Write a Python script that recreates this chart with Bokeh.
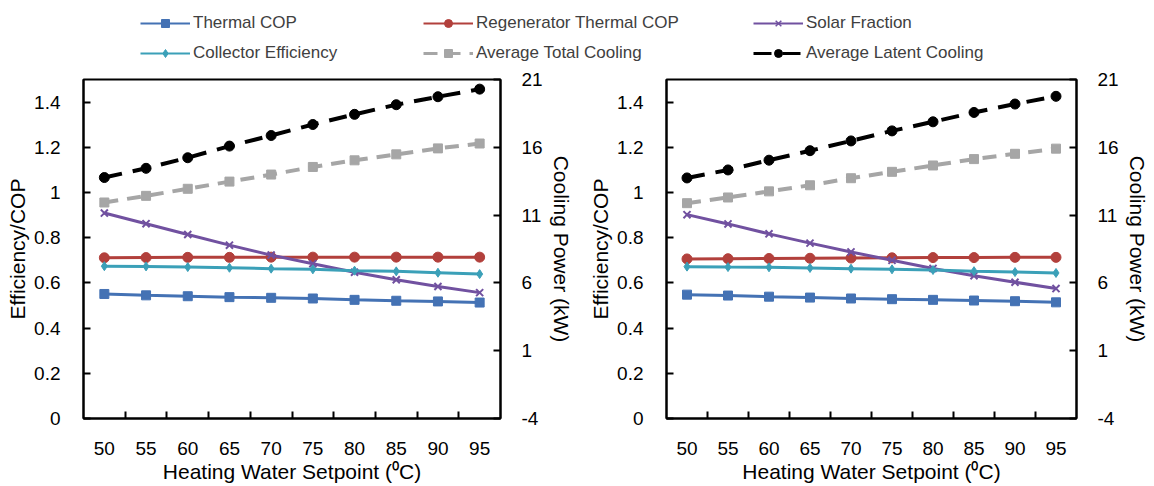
from bokeh.plotting import figure
from bokeh.models import Range1d, LinearAxis, FixedTicker, Legend, LegendItem
from bokeh.layouts import column, row
from bokeh.embed import file_html
from bokeh.resources import INLINE

# ---------------- data ----------------
setpoint = [50, 55, 60, 65, 70, 75, 80, 85, 90, 95]

# left chart
thermal_cop_a = [0.551, 0.545, 0.541, 0.537, 0.534, 0.531, 0.525, 0.521, 0.518, 0.513]
regen_cop_a = [0.711, 0.712, 0.713, 0.713, 0.714, 0.714, 0.714, 0.714, 0.714, 0.714]
collector_eff_a = [0.674, 0.673, 0.670, 0.667, 0.663, 0.660, 0.654, 0.651, 0.645, 0.639]
solar_fraction_a = [0.909, 0.862, 0.814, 0.767, 0.723, 0.685, 0.647, 0.614, 0.584, 0.557]
total_cooling_a = [11.93, 12.42, 12.94, 13.47, 13.99, 14.55, 15.04, 15.48, 15.92, 16.28]
latent_cooling_a = [13.77, 14.45, 15.23, 16.09, 16.87, 17.68, 18.43, 19.14, 19.73, 20.29]

# right chart
thermal_cop_b = [0.548, 0.544, 0.539, 0.535, 0.531, 0.528, 0.525, 0.522, 0.519, 0.514]
regen_cop_b = [0.706, 0.707, 0.708, 0.709, 0.710, 0.711, 0.712, 0.712, 0.713, 0.713]
collector_eff_b = [0.672, 0.670, 0.669, 0.666, 0.663, 0.660, 0.657, 0.652, 0.648, 0.644]
solar_fraction_b = [0.902, 0.861, 0.817, 0.776, 0.737, 0.700, 0.664, 0.632, 0.603, 0.575]
total_cooling_b = [11.88, 12.30, 12.75, 13.20, 13.72, 14.19, 14.66, 15.13, 15.52, 15.90]
latent_cooling_b = [13.74, 14.33, 15.05, 15.75, 16.47, 17.21, 17.88, 18.57, 19.19, 19.76]

series_names = ["Thermal COP", "Regenerator Thermal COP", "Solar Fraction",
                "Collector Efficiency", "Average Total Cooling", "Average Latent Cooling"]

left_ticks = [0, 0.2, 0.4, 0.6, 0.8, 1.0, 1.2, 1.4]
left_tick_labels = ["0", "0.2", "0.4", "0.6", "0.8", "1", "1.2", "1.4"]
right_ticks = [-4, 1, 6, 11, 16, 21]
right_tick_labels = ["-4", "1", "6", "11", "16", "21"]
left_title = "Efficiency/COP"
right_title = "Cooling Power (kW)"
x_title = "Heating Water Setpoint (\u2070C)"

# ---------------- styles ----------------
FONT = "Liberation Sans"
STYLES = {
    "Thermal COP": dict(color="#4472B4", marker="square", size=9, dash="solid", lw=3, axis="default"),
    "Regenerator Thermal COP": dict(color="#B2403C", marker="circle", size=10, dash="solid", lw=3, axis="default"),
    "Solar Fraction": dict(color="#7151A0", marker="x", size=10, dash="solid", lw=3, axis="default"),
    "Collector Efficiency": dict(color="#3BA0B8", marker="diamond", size=9, dash="solid", lw=3, axis="default"),
    "Average Total Cooling": dict(color="#A6A6A6", marker="square", size=9, dash="14 9", lw=4, axis="cool"),
    "Average Latent Cooling": dict(color="#000000", marker="circle", size=10, dash="18 11", lw=4, axis="cool"),
}


def add_series(p, name, xs, ys):
    st = STYLES[name]
    kw = {} if st["axis"] == "default" else {"y_range_name": st["axis"]}
    lr = p.line(xs, ys, line_color=st["color"], line_width=st["lw"], line_dash=st["dash"], **kw)
    mk = dict(marker=st["marker"], size=st["size"], line_color=st["color"], fill_color=st["color"])
    if st["marker"] == "x":
        mk["line_width"] = 2
    sr = p.scatter(xs, ys, **mk, **kw)
    return lr, sr


def make_chart(data, width, bl, br, bt, bb):
    step = setpoint[1] - setpoint[0]
    p = figure(width=width, height=422, output_backend="svg", toolbar_location=None,
               x_range=Range1d(setpoint[0] - step / 2, setpoint[-1] + step / 2),
               y_range=Range1d(0, 1.5),
               min_border_left=bl, min_border_right=br, min_border_top=bt, min_border_bottom=bb)
    p.extra_y_ranges = {"cool": Range1d(-4, 21)}
    p.grid.visible = False
    p.outline_line_color = "black"
    p.outline_line_width = 2
    p.background_fill_color = "white"
    p.border_fill_color = "white"

    mids = [(a + b) / 2 for a, b in zip(setpoint[:-1], setpoint[1:])]
    xa = p.xaxis[0]
    xa.ticker = FixedTicker(ticks=setpoint, minor_ticks=mids)
    xa.major_tick_in = 0
    xa.major_tick_out = 0
    xa.minor_tick_in = 7
    xa.minor_tick_out = 0
    xa.minor_tick_line_color = "black"
    xa.minor_tick_line_width = 2
    xa.axis_label = x_title
    xa.major_label_standoff = 23
    xa.axis_label_standoff = 2

    ya = p.yaxis[0]
    ya.ticker = FixedTicker(ticks=left_ticks)
    ya.major_label_overrides = dict(zip(left_ticks, left_tick_labels))
    ya.major_tick_in = 7
    ya.major_tick_out = 0
    ya.minor_tick_line_color = None
    ya.axis_label = left_title
    ya.major_label_standoff = 23
    ya.axis_label_standoff = 2

    ra = LinearAxis(y_range_name="cool", ticker=FixedTicker(ticks=right_ticks))
    ra.major_label_overrides = dict(zip(right_ticks, right_tick_labels))
    ra.major_tick_in = 7
    ra.major_tick_out = 0
    ra.minor_tick_line_color = None
    ra.axis_label = right_title
    ra.major_label_standoff = 21
    ra.axis_label_standoff = 4
    p.add_layout(ra, "right")

    for ax in (xa, ya, ra):
        ax.axis_line_color = "black"
        ax.axis_line_width = 2
        ax.major_tick_line_color = "black"
        ax.major_tick_line_width = 2
        ax.major_label_text_font = FONT
        ax.major_label_text_font_size = "19px"
        ax.major_label_text_color = "black"
        ax.axis_label_text_font = FONT
        ax.axis_label_text_font_size = "21px"
        ax.axis_label_text_font_style = "normal"
        ax.axis_label_text_color = "black"

    for name, ys in zip(series_names, data):
        add_series(p, name, setpoint, ys)
    return p


p1 = make_chart([thermal_cop_a, regen_cop_a, solar_fraction_a, collector_eff_a,
                 total_cooling_a, latent_cooling_a], width=580, bl=83, br=80, bt=13, bb=66)
p2 = make_chart([thermal_cop_b, regen_cop_b, solar_fraction_b, collector_eff_b,
                 total_cooling_b, latent_cooling_b], width=572, bl=86, br=76, bt=15, bb=68)

# ---------------- legend strip ----------------
lg = figure(width=1152, height=64, output_backend="svg", toolbar_location=None,
            x_range=Range1d(0, 1), y_range=Range1d(0, 1), x_axis_type=None, y_axis_type=None,
            min_border_left=0, min_border_right=0, min_border_top=0, min_border_bottom=0)
lg.grid.visible = False
lg.outline_line_color = None

NAN = float("nan")
legend_items = {}
for name in series_names:
    st = STYLES[name]
    lr = lg.line([NAN], [NAN], line_color=st["color"], line_width=st["lw"] - 1, line_dash=st["dash"])
    mk = dict(marker=st["marker"], size=st["size"] - 1, line_color=st["color"], fill_color=st["color"])
    if st["marker"] == "x":
        mk["line_width"] = 1.5
    sr = lg.scatter([NAN], [NAN], **mk)
    legend_items[name] = LegendItem(label=name, renderers=[lr, sr])

columns = [(140, ["Thermal COP", "Collector Efficiency"]),
           (423, ["Regenerator Thermal COP", "Average Total Cooling"]),
           (753, ["Solar Fraction", "Average Latent Cooling"])]
for xpos, names in columns:
    leg = Legend(items=[legend_items[n] for n in names], location=(xpos, 1),
                 orientation="vertical", glyph_width=50, glyph_height=20, label_height=20,
                 label_standoff=3, spacing=10, padding=0, margin=0,
                 border_line_color=None, background_fill_alpha=0,
                 label_text_font=FONT, label_text_font_size="17px", label_text_color="#404040")
    lg.add_layout(leg)

layout = column(lg, row(p1, p2))
open("out.html", "w").write(file_html(layout, INLINE))
